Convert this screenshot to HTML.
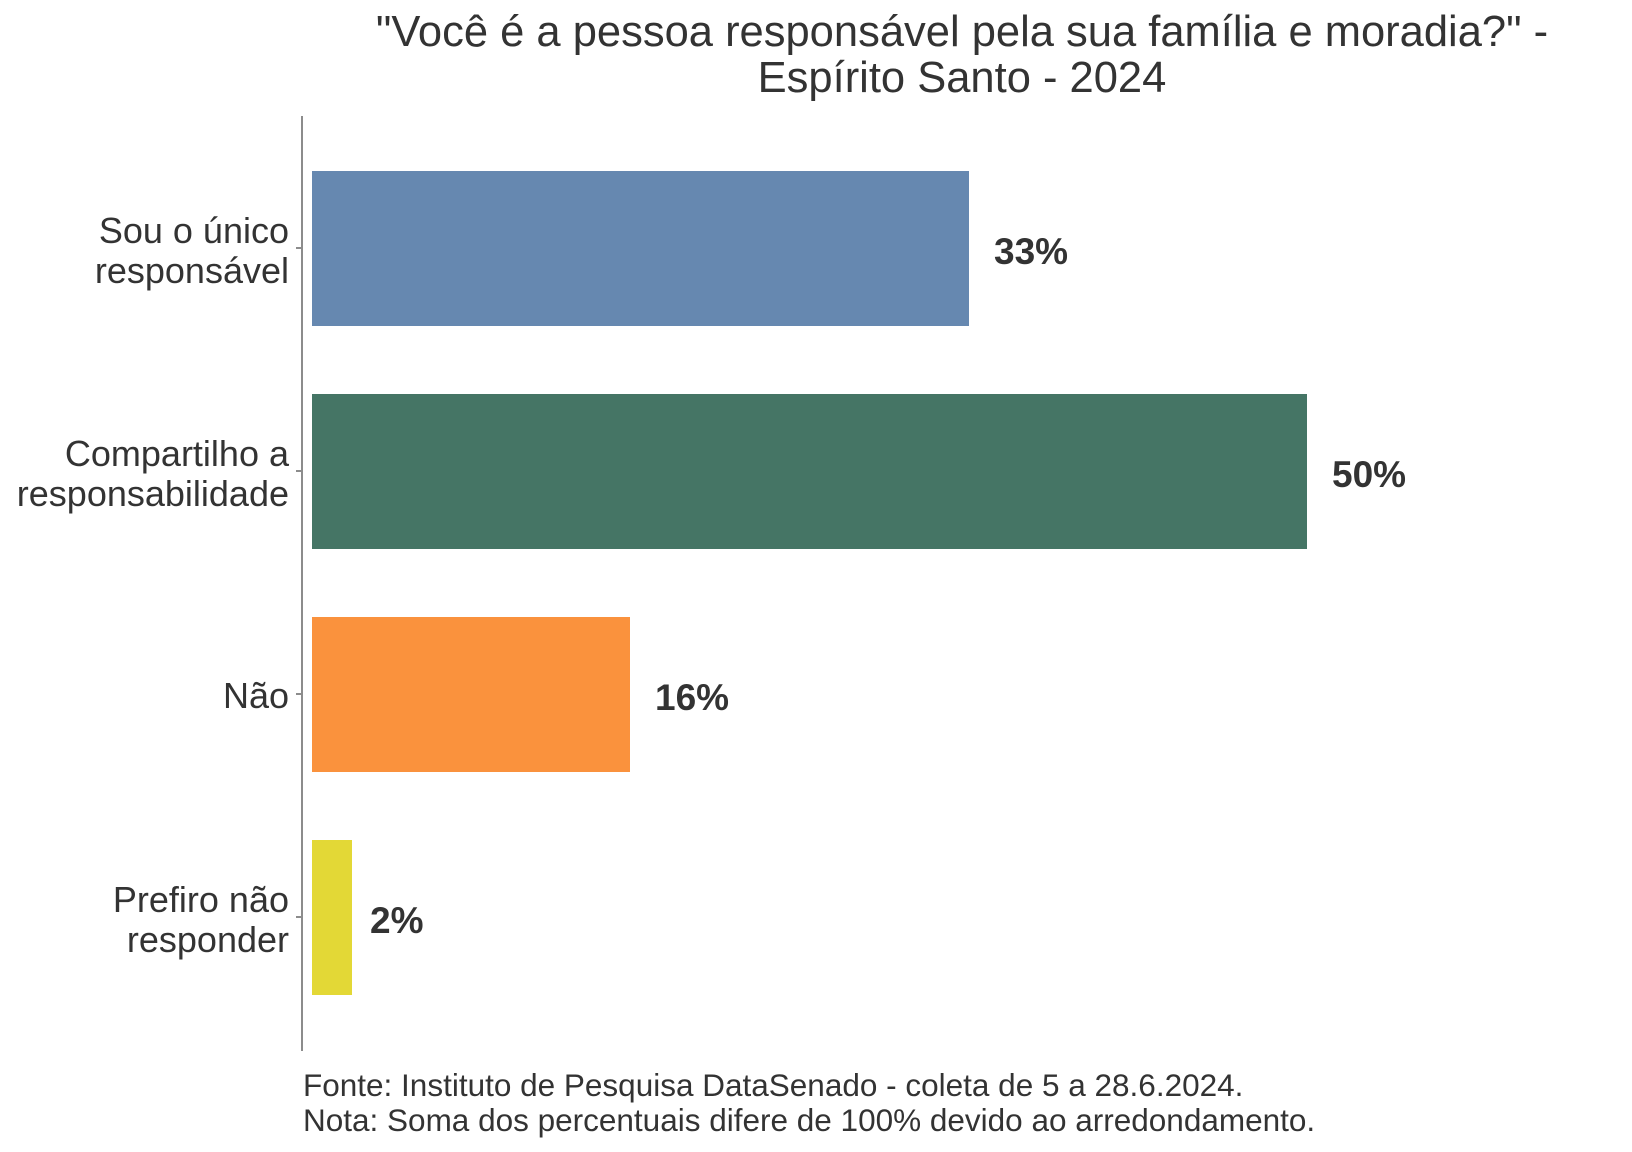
<!DOCTYPE html>
<html><head><meta charset="utf-8"><style>html,body{margin:0;padding:0;background:#fff}svg{display:block}</style></head>
<body>
<svg width="1632" height="1152" xmlns="http://www.w3.org/2000/svg" font-family="Liberation Sans, Arial, sans-serif" fill="#333">
<text x="962" y="46" font-size="43.5" text-anchor="middle">"Você é a pessoa responsável pela sua família e moradia?" -</text>
<text x="962" y="92" font-size="43.5" text-anchor="middle">Espírito Santo - 2024</text>
<line x1="302" y1="116" x2="302" y2="1051" stroke="#8c8c8c" stroke-width="2"/>
<g stroke="#8c8c8c" stroke-width="2">
<line x1="296" y1="248" x2="302" y2="248"/><line x1="296" y1="471" x2="302" y2="471"/>
<line x1="296" y1="694" x2="302" y2="694"/><line x1="296" y1="917" x2="302" y2="917"/></g>
<rect x="312" y="171" width="657" height="155" fill="#6688b0"/>
<rect x="312" y="394" width="995" height="155" fill="#457565"/>
<rect x="312" y="617" width="318" height="155" fill="#fa923d"/>
<rect x="312" y="840" width="40" height="155" fill="#e3d836"/>
<g font-size="37" font-weight="bold">
<text x="994" y="264">33%</text><text x="1332" y="487">50%</text>
<text x="655" y="710">16%</text><text x="370" y="933">2%</text></g>
<g font-size="36" text-anchor="end">
<text x="289" y="243">Sou o único</text><text x="289" y="283">responsável</text>
<text x="289" y="466">Compartilho a</text><text x="289" y="506">responsabilidade</text>
<text x="289" y="708">Não</text>
<text x="289" y="912">Prefiro não</text><text x="289" y="952">responder</text></g>
<text x="303" y="1096" font-size="31.5">Fonte: Instituto de Pesquisa DataSenado - coleta de 5 a 28.6.2024.</text>
<text x="303" y="1131" font-size="31.5">Nota: Soma dos percentuais difere de 100% devido ao arredondamento.</text>
</svg>
</body></html>
